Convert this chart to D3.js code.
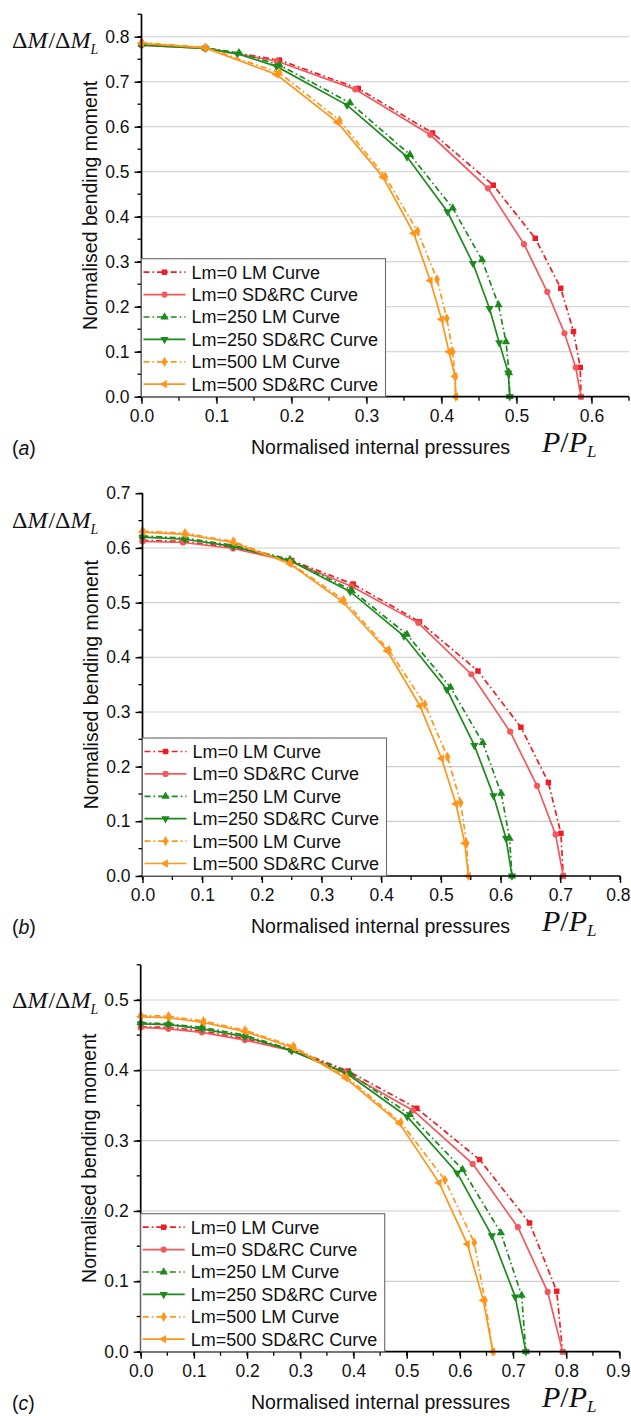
<!DOCTYPE html>
<html>
<head>
<meta charset="utf-8">
<script src="https://cdn.jsdelivr.net/npm/d3@7"></script>
<style>
  body { margin: 0; background: #fff; }
  svg { display: block; }
</style>
</head>
<body>
<svg id="fig" width="631" height="1416"></svg>
<script>
// ---- legend entries (one per series, same order in every panel) ----
const seriesNames = [
  "Lm=0 LM Curve", "Lm=0 SD&RC Curve",
  "Lm=250 LM Curve", "Lm=250 SD&RC Curve",
  "Lm=500 LM Curve", "Lm=500 SD&RC Curve"
];

// ---- panel (a): [P/PL, dM/dML] ----
const a_lm0_LM = [[0,0.783],[0.085,0.775],[0.184,0.748],[0.289,0.685],[0.388,0.586],[0.469,0.470],[0.525,0.352],[0.559,0.241],[0.576,0.145],[0.585,0.065],[0.586,0]];
const a_lm0_SD = [[0,0.781],[0.085,0.774],[0.180,0.746],[0.285,0.683],[0.385,0.582],[0.462,0.463],[0.510,0.339],[0.541,0.233],[0.564,0.141],[0.579,0.065],[0.586,0]];
const a_lm250_LM = [[0,0.783],[0.085,0.775],[0.130,0.764],[0.184,0.737],[0.278,0.653],[0.358,0.538],[0.415,0.419],[0.454,0.304],[0.476,0.204],[0.486,0.122],[0.490,0.053],[0.491,0]];
const a_lm250_SD = [[0,0.781],[0.085,0.774],[0.128,0.762],[0.180,0.734],[0.274,0.648],[0.354,0.533],[0.408,0.411],[0.442,0.296],[0.464,0.196],[0.477,0.120],[0.489,0.053],[0.491,0]];
const a_lm500_LM = [[0,0.787],[0.085,0.776],[0.184,0.720],[0.264,0.614],[0.325,0.489],[0.368,0.368],[0.394,0.261],[0.407,0.174],[0.415,0.100],[0.418,0.045],[0.419,0]];
const a_lm500_SD = [[0,0.785],[0.085,0.775],[0.180,0.716],[0.261,0.610],[0.322,0.488],[0.363,0.363],[0.385,0.258],[0.400,0.172],[0.410,0.100],[0.418,0.045],[0.419,0]];

// ---- panel (b) ----
const b_lm0_LM = [[0,0.614],[0.068,0.612],[0.152,0.601],[0.250,0.577],[0.353,0.534],[0.464,0.465],[0.562,0.375],[0.634,0.272],[0.680,0.171],[0.701,0.078],[0.705,0]];
const b_lm0_SD = [[0,0.612],[0.068,0.610],[0.152,0.599],[0.250,0.575],[0.350,0.530],[0.462,0.463],[0.551,0.369],[0.616,0.264],[0.661,0.165],[0.692,0.076],[0.705,0]];
const b_lm250_LM = [[0,0.622],[0.071,0.618],[0.152,0.605],[0.247,0.579],[0.350,0.523],[0.443,0.442],[0.516,0.345],[0.570,0.244],[0.601,0.151],[0.615,0.069],[0.619,0]];
const b_lm250_SD = [[0,0.620],[0.071,0.616],[0.152,0.603],[0.247,0.577],[0.348,0.520],[0.438,0.439],[0.510,0.341],[0.556,0.239],[0.588,0.147],[0.609,0.069],[0.619,0]];
const b_lm500_LM = [[0,0.631],[0.071,0.627],[0.152,0.612],[0.247,0.573],[0.337,0.505],[0.413,0.413],[0.473,0.314],[0.511,0.218],[0.533,0.134],[0.543,0.060],[0.546,0]];
const b_lm500_SD = [[0,0.629],[0.071,0.625],[0.152,0.610],[0.247,0.571],[0.335,0.502],[0.410,0.412],[0.465,0.311],[0.501,0.215],[0.525,0.132],[0.540,0.060],[0.546,0]];

// ---- panel (c) ----
const c_lm0_LM = [[0,0.462],[0.052,0.461],[0.115,0.456],[0.196,0.445],[0.285,0.430],[0.390,0.399],[0.519,0.346],[0.637,0.273],[0.731,0.183],[0.782,0.086],[0.793,0]];
const c_lm0_SD = [[0,0.461],[0.052,0.459],[0.115,0.454],[0.196,0.443],[0.283,0.428],[0.385,0.397],[0.512,0.343],[0.624,0.267],[0.709,0.177],[0.765,0.085],[0.793,0]];
const c_lm250_LM = [[0,0.468],[0.052,0.466],[0.115,0.461],[0.196,0.450],[0.284,0.429],[0.393,0.396],[0.506,0.337],[0.605,0.259],[0.677,0.169],[0.716,0.080],[0.724,0]];
const c_lm250_SD = [[0,0.466],[0.052,0.465],[0.115,0.459],[0.196,0.448],[0.284,0.428],[0.390,0.394],[0.501,0.334],[0.595,0.254],[0.660,0.165],[0.704,0.078],[0.724,0]];
const c_lm500_LM = [[0,0.478],[0.052,0.477],[0.118,0.470],[0.196,0.457],[0.287,0.434],[0.387,0.391],[0.489,0.326],[0.572,0.244],[0.627,0.155],[0.647,0.073],[0.662,0]];
const c_lm500_SD = [[0,0.476],[0.052,0.475],[0.118,0.468],[0.196,0.455],[0.287,0.432],[0.385,0.389],[0.486,0.325],[0.561,0.240],[0.614,0.153],[0.644,0.073],[0.662,0]];

// ---- axis ticks ----
const ticksA_x = [0, 0.1, 0.2, 0.3, 0.4, 0.5, 0.6];
const ticksA_y = [0, 0.1, 0.2, 0.3, 0.4, 0.5, 0.6, 0.7, 0.8];
const ticksB_x = [0, 0.1, 0.2, 0.3, 0.4, 0.5, 0.6, 0.7, 0.8];
const ticksB_y = [0, 0.1, 0.2, 0.3, 0.4, 0.5, 0.6, 0.7];
const ticksC_x = [0, 0.1, 0.2, 0.3, 0.4, 0.5, 0.6, 0.7, 0.8, 0.9];
const ticksC_y = [0, 0.1, 0.2, 0.3, 0.4, 0.5];

// ---- series styling ----
const styles = [
  { color: "#ee1c24", dash: true,  symbol: "square" },
  { color: "#f2585c", dash: false, symbol: "circle" },
  { color: "#1d8a1d", dash: true,  symbol: "up" },
  { color: "#1d8a1d", dash: false, symbol: "down" },
  { color: "#ff961c", dash: true,  symbol: "diamond" },
  { color: "#ff961c", dash: false, symbol: "left" }
];
const DASH = "6,3,1.6,3";
const W = 631;

const panels = [
  { tag: "a", series: [a_lm0_LM, a_lm0_SD, a_lm250_LM, a_lm250_SD, a_lm500_LM, a_lm500_SD],
    xMax: 0.65, yMax: 0.85, xTicks: ticksA_x, yTicks: ticksA_y,
    left: 141.5, right: 629, bottom: 396.7, top: 14.2, dmY: 48 },
  { tag: "b", series: [b_lm0_LM, b_lm0_SD, b_lm250_LM, b_lm250_SD, b_lm500_LM, b_lm500_SD],
    xMax: 0.8, yMax: 0.7, xTicks: ticksB_x, yTicks: ticksB_y,
    left: 142.5, right: 620, bottom: 876, top: 493.3, dmY: 528 },
  { tag: "c", series: [c_lm0_LM, c_lm0_SD, c_lm250_LM, c_lm250_SD, c_lm500_LM, c_lm500_SD],
    xMax: 0.9, yMax: 0.55, xTicks: ticksC_x, yTicks: ticksC_y,
    left: 140.7, right: 619.5, bottom: 1351.7, top: 964.8, dmY: 1008 }
];

const SANS = "'Liberation Sans', Arial, sans-serif";
const SERIF = "'Liberation Serif', 'Times New Roman', serif";
const svg = d3.select("#fig");
const fmt = d3.format(".1f");

function symbolPath(kind, size) {
  const map = { square: d3.symbolSquare, circle: d3.symbolCircle, up: d3.symbolTriangle,
                down: d3.symbolTriangle, diamond: d3.symbolDiamond, left: d3.symbolTriangle };
  return d3.symbol().type(map[kind]).size(size)();
}
function symbolRotate(kind) {
  return kind === "down" ? 180 : kind === "left" ? -90 : 0;
}

panels.forEach(p => {
  const g = svg.append("g");
  const x = d3.scaleLinear().domain([0, p.xMax]).range([p.left, p.right]);
  const y = d3.scaleLinear().domain([0, p.yMax]).range([p.bottom, p.top]);

  // horizontal grid lines at major y ticks
  g.append("g").selectAll("line")
    .data(p.yTicks.filter(v => v > 0 && v < p.yMax - 1e-9))
    .join("line")
    .attr("x1", p.left).attr("x2", p.right)
    .attr("y1", d => y(d)).attr("y2", d => y(d))
    .attr("stroke", "#cdcdcd").attr("stroke-width", 1.1);

  // curves
  const line = d3.line().x(d => x(d[0])).y(d => y(d[1]));
  p.series.forEach((data, i) => {
    const st = styles[i];
    g.append("path").datum(data)
      .attr("d", line)
      .attr("fill", "none")
      .attr("stroke", st.color)
      .attr("stroke-width", 1.7)
      .attr("stroke-dasharray", st.dash ? DASH : null);
    g.append("g").selectAll("path")
      .data(data)
      .join("path")
      .attr("d", symbolPath(st.symbol, 30))
      .attr("transform", d => `translate(${x(d[0])},${y(d[1])}) rotate(${symbolRotate(st.symbol)})`)
      .attr("fill", st.color);
  });

  // axes
  const xMinor = d3.range(0, p.xMax + 1e-9, 0.05);
  const yMinor = d3.range(0, p.yMax + 1e-9, 0.05);
  const xAxis = d3.axisBottom(x).tickValues(p.xTicks).tickFormat(fmt).tickSize(7).tickPadding(6);
  const yAxis = d3.axisLeft(y).tickValues(p.yTicks).tickFormat(fmt).tickSize(7).tickPadding(5);

  const gx = g.append("g").attr("transform", `translate(0,${p.bottom})`).call(xAxis);
  const gy = g.append("g").attr("transform", `translate(${p.left},0)`).call(yAxis);
  [gx, gy].forEach(ax => {
    ax.select(".domain").attr("stroke", "#000").attr("stroke-width", 1.7);
    ax.selectAll(".tick line").attr("stroke", "#000").attr("stroke-width", 1.4);
    ax.selectAll(".tick text").attr("font-family", SANS).attr("font-size", 17.5).attr("fill", "#111");
  });
  gx.select(".domain").attr("d", `M${p.left},0H${p.right}`);
  gy.select(".domain").attr("d", `M0,${p.bottom}V${p.top}`);

  // keep the last x tick label inside the page
  gx.selectAll(".tick").each(function (d) {
    const t = d3.select(this).select("text");
    const bb = t.node().getBBox();
    const absRight = x(d) + bb.x + bb.width;
    if (absRight > W - 1) t.attr("dx", (W - 1 - absRight) + "px");
  });

  // minor ticks
  g.append("g").selectAll("line").data(xMinor).join("line")
    .attr("x1", d => x(d)).attr("x2", d => x(d))
    .attr("y1", p.bottom).attr("y2", p.bottom + 4)
    .attr("stroke", "#000").attr("stroke-width", 1.3);
  g.append("g").selectAll("line").data(yMinor).join("line")
    .attr("y1", d => y(d)).attr("y2", d => y(d))
    .attr("x1", p.left).attr("x2", p.left - 4)
    .attr("stroke", "#000").attr("stroke-width", 1.3);

  // legend
  const lgW = 244, lgH = 138, rowH = 22.4;
  const lg = g.append("g").attr("transform", `translate(${p.left},${p.bottom - lgH})`);
  lg.append("rect").attr("width", lgW).attr("height", lgH)
    .attr("fill", "#fff").attr("stroke", "#6a6a6a").attr("stroke-width", 1.1);
  seriesNames.forEach((name, i) => {
    const st = styles[i];
    const ry = 13.5 + i * rowH;
    lg.append("line").attr("x1", 2).attr("x2", 44).attr("y1", ry).attr("y2", ry)
      .attr("stroke", st.color).attr("stroke-width", 1.7)
      .attr("stroke-dasharray", st.dash ? DASH : null);
    lg.append("path").attr("d", symbolPath(st.symbol, 30))
      .attr("transform", `translate(23,${ry}) rotate(${symbolRotate(st.symbol)})`)
      .attr("fill", st.color);
    lg.append("text").attr("x", 50).attr("y", ry).attr("dy", "0.36em")
      .attr("font-family", SANS).attr("font-size", 18).attr("fill", "#111")
      .text(name);
  });

  // y-axis title
  g.append("text")
    .attr("transform", `translate(${p.left - 45},${(p.top + p.bottom) / 2}) rotate(-90)`)
    .attr("text-anchor", "middle")
    .attr("font-family", SANS).attr("font-size", 19.5).attr("fill", "#111")
    .text("Normalised bending moment");

  // ΔM/ΔM_L symbol label
  const dm = g.append("text").attr("x", 12).attr("y", p.dmY)
    .attr("font-family", SERIF).attr("font-size", 24).attr("fill", "#111");
  dm.append("tspan").text("Δ");
  dm.append("tspan").attr("font-style", "italic").text("M");
  dm.append("tspan").attr("dx", 1).text("/");
  dm.append("tspan").text("Δ");
  dm.append("tspan").attr("font-style", "italic").text("M");
  dm.append("tspan").attr("font-style", "italic").attr("font-size", 14).attr("dy", 6).text("L");

  // x-axis title and P/P_L symbol
  g.append("text").attr("x", 251).attr("y", p.bottom + 57)
    .attr("font-family", SANS).attr("font-size", 19.5).attr("fill", "#111")
    .text("Normalised internal pressures");
  const pp = g.append("text").attr("x", 542).attr("y", p.bottom + 55)
    .attr("font-family", SERIF).attr("font-size", 30).attr("font-style", "italic").attr("fill", "#111");
  pp.append("tspan").text("P");
  pp.append("tspan").attr("font-style", "normal").text("/");
  pp.append("tspan").text("P");
  pp.append("tspan").attr("font-size", 17).attr("dy", 5).text("L");

  // panel tag
  const tg = g.append("text").attr("x", 12).attr("y", p.bottom + 58)
    .attr("font-family", SANS).attr("font-size", 19.5).attr("fill", "#111");
  tg.append("tspan").text("(");
  tg.append("tspan").attr("font-style", "italic").text(p.tag);
  tg.append("tspan").text(")");
});
</script>
</body>
</html>
